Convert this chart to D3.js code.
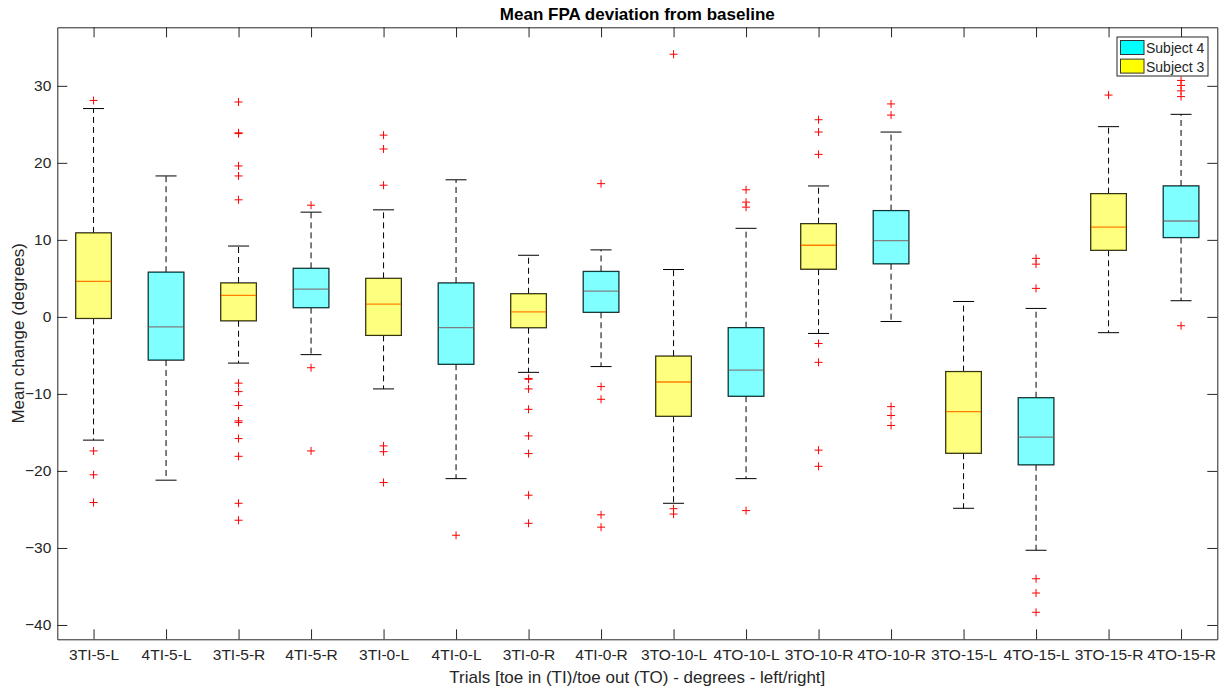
<!DOCTYPE html>
<html>
<head>
<meta charset="utf-8">
<script src="https://cdn.jsdelivr.net/npm/d3@7"></script>
<style>
  body { margin: 0; background: #fff; }
  text { font-family: "Liberation Sans", Arial, sans-serif; }
</style>
</head>
<body>
<script>
// trial labels, in plot order
var trials = ["3TI-5-L","4TI-5-L","3TI-5-R","4TI-5-R","3TI-0-L","4TI-0-L","3TI-0-R","4TI-0-R",
              "3TO-10-L","4TO-10-L","3TO-10-R","4TO-10-R","3TO-15-L","4TO-15-L","3TO-15-R","4TO-15-R"];
var subject = [3,4,3,4,3,4,3,4,3,4,3,4,3,4,3,4];

// box statistics (degrees)
var whiskHi = [27.05, 18.3, 9.2, 13.6, 13.9, 17.8, 8.0, 8.7, 6.15, 11.5, 17.0, 24.0, 2.0, 1.1, 24.7, 26.3];
var q3      = [10.9, 5.8, 4.4, 6.3, 5.0, 4.4, 3.0, 5.9, -5.1, -1.4, 12.1, 13.8, -7.1, -10.5, 16.0, 17.0];
var median  = [4.6, -1.3, 2.8, 3.6, 1.65, -1.4, 0.65, 3.35, -8.45, -6.9, 9.3, 9.9, -12.3, -15.6, 11.65, 12.45];
var q1      = [-0.2, -5.6, -0.5, 1.2, -2.4, -6.15, -1.4, 0.6, -12.9, -10.3, 6.2, 6.9, -17.7, -19.2, 8.65, 10.3];
var whiskLo = [-16.0, -21.2, -6.0, -4.9, -9.35, -21.0, -7.2, -6.45, -24.2, -21.0, -2.15, -0.6, -24.85, -30.3, -2.05, 2.1];
var outliers = [
  [28.1, -17.4, -20.5, -24.1],
  [],
  [27.9, 23.9, 23.8, 19.6, 18.3, 15.2, -8.6, -9.7, -11.5, -13.5, -13.7, -15.8, -18.1, -24.2, -26.4],
  [14.5, -6.6, -17.4],
  [23.6, 21.8, 17.1, -16.75, -17.5, -21.5],
  [-28.35],
  [-8.0, -8.1, -9.35, -12.0, -15.45, -17.75, -23.15, -26.8],
  [17.3, -9.05, -10.7, -25.7, -27.3],
  [34.1, -24.9, -25.6],
  [16.5, 14.9, 14.25, -25.15],
  [25.6, 24.0, 21.1, -3.45, -5.9, -17.3, -19.4],
  [27.65, 26.2, -11.65, -12.8, -14.1],
  [],
  [7.6, 6.85, 3.7, -34.0, -35.85, -38.35],
  [28.8],
  [30.7, 30.05, 29.35, 28.6, -1.15]
];
var yTicks = [-40, -30, -20, -10, 0, 10, 20, 30];
var legendItems = [{name: "Subject 4", color: "#00ffff"}, {name: "Subject 3", color: "#ffff00"}];
var subjectColor = {3: "#ffff00", 4: "#00ffff"};

var svgWidth = 1224, svgHeight = 693;
var plotL = 57.3, plotR = 1217.3, plotT = 27.3, plotB = 639.3;
var ink = "#262626";

var svg = d3.select("body").append("svg")
            .attr("width", svgWidth)
            .attr("height", svgHeight);

var x = d3.scalePoint().domain(trials).range([plotL, plotR]).padding(0.5);
var y = d3.scaleLinear().domain([-41.86, 37.6]).range([plotB, plotT]);
var step = x.step();
var boxW = step * 0.49, capW = step * 0.29;

// axes (ticks point inward, box closed all round)
var gx = svg.append("g").attr("transform", "translate(0," + plotB + ")")
            .call(d3.axisBottom(x).tickSizeInner(-10).tickSizeOuter(0).tickPadding(10));
var gxt = svg.append("g").attr("transform", "translate(0," + plotT + ")")
            .call(d3.axisTop(x).tickSizeInner(-10).tickSizeOuter(0).tickFormat(""));
var gy = svg.append("g").attr("transform", "translate(" + plotL + ",0)")
            .call(d3.axisLeft(y).tickValues(yTicks).tickSizeInner(-10).tickSizeOuter(0).tickPadding(6));
var gyr = svg.append("g").attr("transform", "translate(" + plotR + ",0)")
            .call(d3.axisRight(y).tickValues(yTicks).tickSizeInner(-10).tickSizeOuter(0).tickFormat(""));

[gx, gxt, gy, gyr].forEach(function(g) {
  g.selectAll("path.domain").attr("stroke", ink).attr("stroke-width", 1);
  g.selectAll(".tick line").attr("stroke", ink).attr("stroke-width", 1);
  g.selectAll(".tick text").attr("fill", ink).style("font-size", "15.5px")
   .style("font-family", "'Liberation Sans', Arial, sans-serif");
});

// boxes
var boxes = svg.append("g").selectAll("g")
              .data(trials)
              .enter()
            .append("g");

boxes.each(function(t, i) {
  var g = d3.select(this);
  var cx = x(t);

  // dashed whiskers
  g.append("line").attr("x1", cx).attr("x2", cx)
   .attr("y1", y(q3[i])).attr("y2", y(whiskHi[i]))
   .attr("stroke", "#000").attr("stroke-dasharray", "6,4");
  g.append("line").attr("x1", cx).attr("x2", cx)
   .attr("y1", y(q1[i])).attr("y2", y(whiskLo[i]))
   .attr("stroke", "#000").attr("stroke-dasharray", "6,4");
  // caps
  [whiskHi[i], whiskLo[i]].forEach(function(v) {
    g.append("line").attr("x1", cx - capW / 2).attr("x2", cx + capW / 2)
     .attr("y1", y(v)).attr("y2", y(v))
     .attr("stroke", "#000");
  });

  // box outline + median (red), then a half transparent patch over them
  g.append("rect").attr("x", cx - boxW / 2).attr("y", y(q3[i]))
   .attr("width", boxW).attr("height", y(q1[i]) - y(q3[i]))
   .attr("fill", "none").attr("stroke", "#222").attr("stroke-width", 1.3);
  g.append("line").attr("x1", cx - boxW / 2).attr("x2", cx + boxW / 2)
   .attr("y1", y(median[i])).attr("y2", y(median[i]))
   .attr("stroke", "#ff0000").attr("stroke-width", 1.3);
  g.append("rect").attr("x", cx - boxW / 2).attr("y", y(q3[i]))
   .attr("width", boxW).attr("height", y(q1[i]) - y(q3[i]))
   .attr("fill", subjectColor[subject[i]]).attr("fill-opacity", 0.5)
   .attr("stroke", "#000").attr("stroke-opacity", 0.35).attr("stroke-width", 1);

  // outliers as red plus signs
  g.selectAll("path.out")
   .data(outliers[i])
   .enter()
   .append("path")
   .attr("class", "out")
   .attr("d", function(v) {
     var py = y(v);
     return "M" + (cx - 4) + "," + py + "H" + (cx + 4) + "M" + cx + "," + (py - 4) + "V" + (py + 4);
   })
   .attr("stroke", "#ff0000").attr("stroke-width", 1).attr("fill", "none");
});

// title and labels
svg.append("text")
   .attr("x", (plotL + plotR) / 2).attr("y", 20)
   .attr("text-anchor", "middle")
   .style("font-size", "17px").style("font-weight", "bold")
   .attr("fill", "#000")
   .text("Mean FPA deviation from baseline");

svg.append("text")
   .attr("x", (plotL + plotR) / 2).attr("y", 683)
   .attr("text-anchor", "middle")
   .style("font-size", "17px")
   .attr("fill", ink)
   .text("Trials [toe in (TI)/toe out (TO) - degrees - left/right]");

svg.append("text")
   .attr("transform", "translate(24," + ((plotT + plotB) / 2) + ") rotate(-90)")
   .attr("text-anchor", "middle")
   .style("font-size", "17px")
   .attr("fill", ink)
   .text("Mean change (degrees)");

// legend
var legend = svg.append("g").attr("transform", "translate(1117,37)");
legend.append("rect")
      .attr("width", 91).attr("height", 39)
      .attr("fill", "#fff").attr("stroke", ink).attr("stroke-width", 1);
var li = legend.selectAll("g.item")
      .data(legendItems)
      .enter()
    .append("g")
      .attr("class", "item")
      .attr("transform", function(d, k) { return "translate(3.5," + (3.5 + k * 18.6) + ")"; });
li.append("rect")
  .attr("width", 23.5).attr("height", 14)
  .attr("fill", function(d) { return d.color; })
  .attr("stroke", "#333").attr("stroke-width", 1);
li.append("text")
  .attr("x", 25.5).attr("y", 7.5).attr("dy", "0.35em")
  .style("font-size", "14px")
  .attr("fill", ink)
  .text(function(d) { return d.name; });
</script>
</body>
</html>
